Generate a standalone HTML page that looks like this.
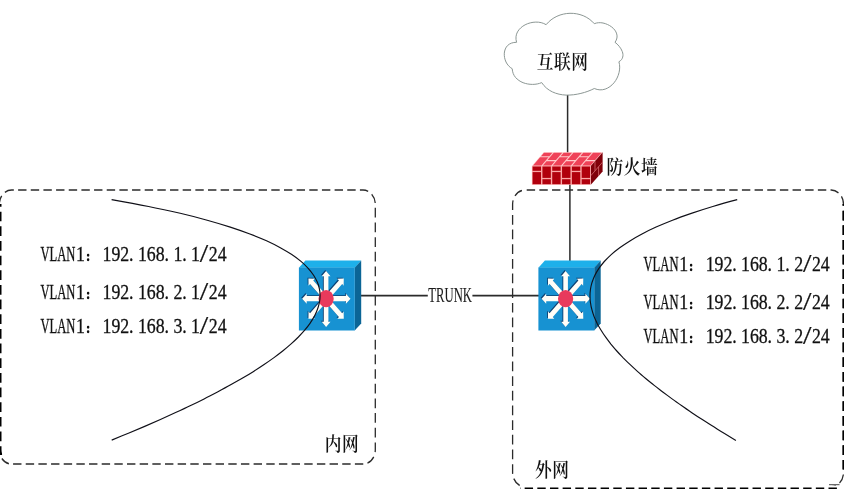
<!DOCTYPE html>
<html lang="zh-CN"><head><meta charset="utf-8"><title>VLAN TRUNK 网络拓扑</title>
<style>
html,body{margin:0;padding:0;background:#ffffff;}
body{width:844px;height:489px;overflow:hidden;}
svg{display:block;will-change:transform;}
.lat{font-family:"Liberation Serif","Noto Serif CJK SC",serif;font-size:21px;fill:#111;}
.cap{stroke:#111;stroke-width:0.32px;}
.trk{fill:#1c1c1c;stroke:#1c1c1c;stroke-width:0.12px;}
.dig{stroke:#111;stroke-width:0.3px;}
.sl{font-size:25px;stroke:#111;stroke-width:0.2px;}
.col{font-size:12px;stroke:#111;stroke-width:1.5px;stroke-linejoin:round;}
.cjk{font-family:"Liberation Serif","Noto Serif CJK SC",serif;fill:#111;font-weight:600;}
.ln{fill:none;stroke:#2b2b2b;stroke-width:1.5;}
.cv{fill:none;stroke:#101018;stroke-width:1.15;}
.box{fill:none;stroke:#2b2b2b;stroke-width:1.3;stroke-dasharray:8.4 4.26;}
.edge{stroke:#000;stroke-width:2.2;}
</style></head><body>
<svg width="844" height="489" viewBox="0 0 844 489">
<defs><g id="sw">
<polygon points="-0.2,7.4 6.3,0.2 62.1,0.2 55.8,7.4" fill="#1eb0ea"/>
<polygon points="55.6,7.4 62.1,0.2 62.1,63.2 55.6,70.2" fill="#0b6596"/>
<rect x="-0.2" y="7.2" width="55.9" height="63" fill="#1792d2"/>
<g transform="translate(27.00,38.40) scale(1,1.140)">
<g fill="#0d4273" transform="translate(-0.9,-0.8)"><polygon points="-2.30,0.00 -2.30,-19.80 -4.40,-19.80 0.00,-24.40 4.40,-19.80 2.30,-19.80 2.30,0.00" transform="rotate(0)"/><polygon points="-2.30,0.00 -2.30,-20.20 -4.40,-20.20 0.00,-24.80 4.40,-20.20 2.30,-20.20 2.30,0.00" transform="rotate(180)"/><polygon points="-2.30,0.00 -2.30,-19.80 -4.40,-19.80 0.00,-24.40 4.40,-19.80 2.30,-19.80 2.30,0.00" transform="rotate(90)"/><polygon points="-2.30,0.00 -2.30,-19.40 -4.40,-19.40 0.00,-24.00 4.40,-19.40 2.30,-19.40 2.30,0.00" transform="rotate(270)"/><polygon points="-2.30,0.00 -2.30,-20.40 -4.40,-20.40 0.00,-25.00 4.40,-20.40 2.30,-20.40 2.30,0.00" transform="rotate(45)"/><polygon points="-2.30,0.00 -2.30,-20.40 -4.40,-20.40 0.00,-25.00 4.40,-20.40 2.30,-20.40 2.30,0.00" transform="rotate(135)"/><polygon points="-2.30,0.00 -2.30,-20.40 -4.40,-20.40 0.00,-25.00 4.40,-20.40 2.30,-20.40 2.30,0.00" transform="rotate(225)"/><polygon points="-2.30,0.00 -2.30,-20.40 -4.40,-20.40 0.00,-25.00 4.40,-20.40 2.30,-20.40 2.30,0.00" transform="rotate(315)"/></g>
<g fill="#fffef8"><polygon points="-2.30,0.00 -2.30,-19.80 -4.40,-19.80 0.00,-24.40 4.40,-19.80 2.30,-19.80 2.30,0.00" transform="rotate(0)"/><polygon points="-2.30,0.00 -2.30,-20.20 -4.40,-20.20 0.00,-24.80 4.40,-20.20 2.30,-20.20 2.30,0.00" transform="rotate(180)"/><polygon points="-2.30,0.00 -2.30,-19.80 -4.40,-19.80 0.00,-24.40 4.40,-19.80 2.30,-19.80 2.30,0.00" transform="rotate(90)"/><polygon points="-2.30,0.00 -2.30,-19.40 -4.40,-19.40 0.00,-24.00 4.40,-19.40 2.30,-19.40 2.30,0.00" transform="rotate(270)"/><polygon points="-2.30,0.00 -2.30,-20.40 -4.40,-20.40 0.00,-25.00 4.40,-20.40 2.30,-20.40 2.30,0.00" transform="rotate(45)"/><polygon points="-2.30,0.00 -2.30,-20.40 -4.40,-20.40 0.00,-25.00 4.40,-20.40 2.30,-20.40 2.30,0.00" transform="rotate(135)"/><polygon points="-2.30,0.00 -2.30,-20.40 -4.40,-20.40 0.00,-25.00 4.40,-20.40 2.30,-20.40 2.30,0.00" transform="rotate(225)"/><polygon points="-2.30,0.00 -2.30,-20.40 -4.40,-20.40 0.00,-25.00 4.40,-20.40 2.30,-20.40 2.30,0.00" transform="rotate(315)"/></g>
<circle cx="0" cy="0" r="7.6" fill="#e83a5c"/>
</g>
</g><clipPath id="clipL"><rect x="0" y="204" width="2.2" height="251"/></clipPath><clipPath id="clipR"><rect x="841.8" y="204" width="3" height="270"/></clipPath></defs>
<rect x="0" y="0" width="844" height="489" fill="#ffffff"/>
<line class="ln" x1="567.6" y1="94" x2="567.6" y2="153"/>
<path d="M516.6,42.3 C515.4,38.4 515.9,34.8 517.5,31.9 C519.2,28.9 521.9,26.5 525.1,24.8 C528.4,23.1 532.1,22.2 535.8,22.1 C539.5,22.0 543.1,22.8 546.1,24.7 C549.1,21.0 552.8,18.2 556.9,16.3 C561.0,14.4 565.5,13.4 570.0,13.3 C574.5,13.2 579.0,14.0 583.2,15.7 C587.3,17.4 591.2,20.1 594.3,23.7 C596.9,22.6 600.0,22.4 603.0,23.0 C606.1,23.7 609.1,25.0 611.6,26.9 C614.1,28.8 616.0,31.2 616.7,33.9 C617.5,36.5 617.1,39.4 615.0,42.3 C616.4,43.3 617.9,44.7 619.2,46.3 C620.5,47.9 621.6,49.7 622.3,51.6 C623.0,53.5 623.2,55.4 622.7,57.1 C622.3,58.9 621.1,60.5 618.9,61.8 C620.0,65.2 619.9,69.0 619.0,72.7 C618.1,76.4 616.4,79.9 614.0,82.8 C611.6,85.7 608.6,87.9 605.2,89.1 C601.9,90.2 598.1,90.2 594.3,88.5 C590.3,90.5 585.7,92.3 580.9,93.4 C576.1,94.6 571.1,95.2 566.2,95.1 C561.4,94.9 556.6,93.9 552.4,91.9 C548.2,89.9 544.5,86.9 541.7,82.6 C538.9,83.8 535.8,84.4 532.5,84.4 C529.3,84.4 526.0,83.8 523.1,82.7 C520.1,81.5 517.5,79.7 515.5,77.4 C513.6,75.1 512.4,72.2 512.2,68.7 C509.5,67.2 507.4,64.8 506.0,62.0 C504.7,59.2 504.1,56.1 504.3,53.2 C504.6,50.2 505.6,47.5 507.6,45.5 C509.7,43.5 512.6,42.3 516.6,42.3 Z" fill="#ffffff" stroke="#8c9794" stroke-width="1" stroke-linejoin="round"/>
<line class="ln" x1="569.9" y1="184" x2="569.9" y2="261"/>
<line class="ln" x1="360" y1="295.7" x2="427.8" y2="295.7" style="stroke-width:1.75"/>
<line class="ln" x1="472.4" y1="295.7" x2="539.5" y2="295.7" style="stroke-width:1.75"/>
<path class="box" transform="scale(1,1.158)" d="M11.60,164.16 H363.00 A12.30,12.30 0 0 1 375.30,176.46 V388.48 A12.30,12.30 0 0 1 363.00,400.78 H11.60 A12.30,12.30 0 0 1 -0.70,388.48 V176.46 A12.30,12.30 0 0 1 11.60,164.16" stroke-dashoffset="6.16"/>
<path class="box" transform="scale(1,1.158)" d="M524.90,164.16 H831.20 A12.30,12.30 0 0 1 843.50,176.46 V408.08 A12.30,12.30 0 0 1 831.20,420.38 H524.90 A12.30,12.30 0 0 1 512.60,408.08 V176.46 A12.30,12.30 0 0 1 524.90,164.16" stroke-dashoffset="10.86"/>
<g clip-path="url(#clipL)"><path class="box edge" transform="translate(1.1,0) scale(1,1.158)" d="M11.60,164.16 H363.00 A12.30,12.30 0 0 1 375.30,176.46 V388.48 A12.30,12.30 0 0 1 363.00,400.78 H11.60 A12.30,12.30 0 0 1 -0.70,388.48 V176.46 A12.30,12.30 0 0 1 11.60,164.16" stroke-dashoffset="7.66"/></g>
<g clip-path="url(#clipR)"><path class="box edge" transform="scale(1,1.158)" d="M524.90,164.16 H831.20 A12.30,12.30 0 0 1 843.50,176.46 V408.08 A12.30,12.30 0 0 1 831.20,420.38 H524.90 A12.30,12.30 0 0 1 512.60,408.08 V176.46 A12.30,12.30 0 0 1 524.90,164.16" stroke-dashoffset="10.86"/></g>
<rect x="520.3" y="485.6" width="317.2" height="4" fill="#ffffff"/>
<line x1="829" y1="484.7" x2="839.5" y2="484.7" stroke="#333" stroke-width="0.9"/>
<path class="box edge" d="M836.9,488.7 H520" style="stroke-width:2.5"/>
<g transform="translate(531.9,152.3)">
<polygon points="0,13.6 11.8,0 70.7,0 58.9,13.6" fill="#ffcaca"/>
<polygon points="58.9,13.6 70.7,0 70.7,19.1 58.9,32.5" fill="#80000a"/>
<g stroke="#d46a70" stroke-width="0.8" fill="none">
<path d="M58.9,23.4 L70.7,9.8"/>
<path d="M63.1,9.0 V18.5"/>
<path d="M66.7,14.5 V23.5"/>
</g>
<rect x="0" y="13.6" width="58.9" height="18.9" fill="#fba6a6"/>
<rect x="0.70" y="14.20" width="8.42" height="4.30" fill="#b1000d"/>
<rect x="0.70" y="19.80" width="8.42" height="12.10" fill="#b1000d"/>
<rect x="10.52" y="14.20" width="8.42" height="11.40" fill="#b1000d"/>
<rect x="10.52" y="26.90" width="8.42" height="5.00" fill="#b1000d"/>
<rect x="20.33" y="14.20" width="8.42" height="4.30" fill="#b1000d"/>
<rect x="20.33" y="19.80" width="8.42" height="12.10" fill="#b1000d"/>
<rect x="30.15" y="14.20" width="8.42" height="11.40" fill="#b1000d"/>
<rect x="30.15" y="26.90" width="8.42" height="5.00" fill="#b1000d"/>
<rect x="39.97" y="14.20" width="8.42" height="4.30" fill="#b1000d"/>
<rect x="39.97" y="19.80" width="8.42" height="12.10" fill="#b1000d"/>
<rect x="49.78" y="14.20" width="8.42" height="11.40" fill="#b1000d"/>
<rect x="49.78" y="26.90" width="8.42" height="5.00" fill="#b1000d"/>
<g transform="matrix(1,0,-0.8676,1,11.80,0)" fill="#ef4258">
<rect x="0.70" y="0.50" width="8.42" height="3.40"/>
<rect x="0.70" y="5.00" width="8.42" height="8.10"/>
<rect x="10.52" y="0.50" width="8.42" height="7.20"/>
<rect x="10.52" y="8.90" width="8.42" height="4.20"/>
<rect x="20.33" y="0.50" width="8.42" height="3.40"/>
<rect x="20.33" y="5.00" width="8.42" height="8.10"/>
<rect x="30.15" y="0.50" width="8.42" height="7.20"/>
<rect x="30.15" y="8.90" width="8.42" height="4.20"/>
<rect x="39.97" y="0.50" width="8.42" height="3.40"/>
<rect x="39.97" y="5.00" width="8.42" height="8.10"/>
<rect x="49.78" y="0.50" width="8.42" height="7.20"/>
<rect x="49.78" y="8.90" width="8.42" height="4.20"/>
</g>
</g>
<use href="#sw" x="299.10" y="260.30"/>
<use href="#sw" x="538.60" y="260.30"/>
<path class="cv" d="M111.6,199.6 C117.8,200.7 137.2,204.2 148.6,206.5 C160.0,208.8 170.4,211.1 180.2,213.3 C190.0,215.6 198.9,217.9 207.2,220.2 C215.5,222.5 223.1,224.8 230.3,227.1 C237.4,229.4 243.8,231.7 249.9,234.0 C255.9,236.2 261.4,238.5 266.5,240.8 C271.5,243.1 276.1,245.4 280.3,247.7 C284.5,250.0 288.3,252.3 291.8,254.6 C295.2,256.9 298.2,259.2 301.0,261.4 C303.7,263.7 306.1,266.0 308.2,268.3 C310.3,270.6 312.1,272.9 313.6,275.2 C315.1,277.5 316.3,279.8 317.3,282.1 C318.3,284.3 318.9,286.6 319.4,288.9 C319.9,291.2 320.1,293.5 320.1,295.8 C320.1,298.1 319.8,300.4 319.4,302.7 C318.9,305.0 318.3,307.3 317.4,309.5 C316.6,311.8 315.5,314.1 314.3,316.4 C313.0,318.7 311.6,321.0 310.0,323.3 C308.4,325.6 306.6,327.9 304.7,330.2 C302.8,332.4 300.6,334.7 298.4,337.0 C296.1,339.3 293.7,341.6 291.1,343.9 C288.5,346.2 285.8,348.5 283.0,350.8 C280.1,353.1 277.1,355.4 274.0,357.6 C270.8,359.9 267.5,362.2 264.1,364.5 C260.7,366.8 257.2,369.1 253.6,371.4 C249.9,373.7 246.1,376.0 242.2,378.3 C238.3,380.5 234.3,382.8 230.2,385.1 C226.1,387.4 221.8,389.7 217.5,392.0 C213.1,394.3 208.7,396.6 204.1,398.9 C199.6,401.2 194.9,403.5 190.1,405.7 C185.4,408.0 180.5,410.3 175.6,412.6 C170.6,414.9 165.5,417.2 160.4,419.5 C155.2,421.8 150.0,424.1 144.7,426.4 C139.3,428.6 133.9,430.9 128.4,433.2 C122.9,435.5 114.4,439.0 111.7,440.1"/>
<path class="cv" d="M737.2,199.6 C733.1,200.7 720.4,204.2 712.8,206.5 C705.1,208.8 698.0,211.1 691.3,213.4 C684.6,215.7 678.3,217.9 672.5,220.2 C666.6,222.5 661.2,224.8 656.1,227.1 C651.0,229.4 646.3,231.7 642.0,234.0 C637.6,236.3 633.6,238.6 629.9,240.9 C626.2,243.2 622.8,245.5 619.7,247.8 C616.6,250.1 613.8,252.3 611.2,254.6 C608.7,256.9 606.4,259.2 604.3,261.5 C602.3,263.8 600.5,266.1 598.9,268.4 C597.4,270.7 596.0,273.0 594.9,275.3 C593.8,277.6 592.9,279.9 592.1,282.2 C591.4,284.5 590.9,286.7 590.5,289.0 C590.2,291.3 590.0,293.6 590.0,295.9 C590.0,298.2 590.1,300.5 590.5,302.8 C590.8,305.1 591.2,307.4 591.9,309.7 C592.5,312.0 593.2,314.3 594.1,316.6 C595.0,318.9 596.1,321.1 597.2,323.4 C598.4,325.7 599.7,328.0 601.1,330.3 C602.5,332.6 604.0,334.9 605.7,337.2 C607.3,339.5 609.1,341.8 610.9,344.1 C612.8,346.4 614.7,348.7 616.8,351.0 C618.8,353.3 621.0,355.5 623.2,357.8 C625.5,360.1 627.8,362.4 630.2,364.7 C632.6,367.0 635.1,369.3 637.7,371.6 C640.3,373.9 643.0,376.2 645.7,378.5 C648.5,380.8 651.3,383.1 654.2,385.4 C657.1,387.7 660.1,389.9 663.1,392.2 C666.2,394.5 669.3,396.8 672.4,399.1 C675.6,401.4 678.9,403.7 682.2,406.0 C685.4,408.3 688.8,410.6 692.2,412.9 C695.6,415.2 699.1,417.5 702.7,419.8 C706.2,422.1 709.8,424.3 713.4,426.6 C717.1,428.9 720.7,431.2 724.5,433.5 C728.2,435.8 734.0,439.3 735.9,440.4"/>
<text transform="translate(536.86,68.50) scale(0.970,1.120)" x="0" y="0" class="cjk" font-size="17.20" letter-spacing="0.53">互联网</text>
<text transform="translate(606.56,174.00) scale(0.970,1.120)" x="0" y="0" class="cjk" font-size="17.20" letter-spacing="0.53">防火墙</text>
<text transform="translate(324.76,451.00) scale(0.970,1.120)" x="0" y="0" class="cjk" font-size="17.20" letter-spacing="0.53">内网</text>
<text transform="translate(534.96,477.30) scale(0.970,1.120)" x="0" y="0" class="cjk" font-size="17.20" letter-spacing="0.53">外网</text>
<text transform="translate(428.00,301.80) scale(0.850,0.990)" class="lat"><tspan class="trk" x="0.24" y="0" textLength="51.59" lengthAdjust="spacingAndGlyphs">TRUNK</tspan></text>
<text transform="translate(40.20,260.60) scale(0.850,0.990)" class="lat"><tspan class="cap" x="0.24" y="0" textLength="41.18" lengthAdjust="spacingAndGlyphs">VLAN</tspan><tspan class="dig" text-anchor="middle" y="0" x="47.44">1</tspan><tspan class="col" y="0" x="53.47">：</tspan><tspan class="dig" text-anchor="middle" y="0" x="78.68 89.09 99.50 107.18 120.32 130.74 141.15 148.82 161.97 169.65 182.79">192.168.1.1</tspan><tspan class="sl" y="1.20" x="187.76" textLength="9.94" lengthAdjust="spacingAndGlyphs">/</tspan><tspan class="dig" text-anchor="middle" y="0" x="203.62 214.03">24</tspan></text>
<text transform="translate(40.20,299.00) scale(0.850,0.990)" class="lat"><tspan class="cap" x="0.24" y="0" textLength="41.18" lengthAdjust="spacingAndGlyphs">VLAN</tspan><tspan class="dig" text-anchor="middle" y="0" x="47.44">1</tspan><tspan class="col" y="0" x="53.47">：</tspan><tspan class="dig" text-anchor="middle" y="0" x="78.68 89.09 99.50 107.18 120.32 130.74 141.15 148.82 161.97 169.65 182.79">192.168.2.1</tspan><tspan class="sl" y="1.20" x="187.76" textLength="9.94" lengthAdjust="spacingAndGlyphs">/</tspan><tspan class="dig" text-anchor="middle" y="0" x="203.62 214.03">24</tspan></text>
<text transform="translate(40.20,332.60) scale(0.850,0.990)" class="lat"><tspan class="cap" x="0.24" y="0" textLength="41.18" lengthAdjust="spacingAndGlyphs">VLAN</tspan><tspan class="dig" text-anchor="middle" y="0" x="47.44">1</tspan><tspan class="col" y="0" x="53.47">：</tspan><tspan class="dig" text-anchor="middle" y="0" x="78.68 89.09 99.50 107.18 120.32 130.74 141.15 148.82 161.97 169.65 182.79">192.168.3.1</tspan><tspan class="sl" y="1.20" x="187.76" textLength="9.94" lengthAdjust="spacingAndGlyphs">/</tspan><tspan class="dig" text-anchor="middle" y="0" x="203.62 214.03">24</tspan></text>
<text transform="translate(643.30,270.60) scale(0.850,0.990)" class="lat"><tspan class="cap" x="0.24" y="0" textLength="41.18" lengthAdjust="spacingAndGlyphs">VLAN</tspan><tspan class="dig" text-anchor="middle" y="0" x="47.44">1</tspan><tspan class="col" y="0" x="53.47">：</tspan><tspan class="dig" text-anchor="middle" y="0" x="78.68 89.09 99.50 107.18 120.32 130.74 141.15 148.82 161.97 169.65 182.79">192.168.1.2</tspan><tspan class="sl" y="1.20" x="187.76" textLength="9.94" lengthAdjust="spacingAndGlyphs">/</tspan><tspan class="dig" text-anchor="middle" y="0" x="203.62 214.03">24</tspan></text>
<text transform="translate(643.30,308.80) scale(0.850,0.990)" class="lat"><tspan class="cap" x="0.24" y="0" textLength="41.18" lengthAdjust="spacingAndGlyphs">VLAN</tspan><tspan class="dig" text-anchor="middle" y="0" x="47.44">1</tspan><tspan class="col" y="0" x="53.47">：</tspan><tspan class="dig" text-anchor="middle" y="0" x="78.68 89.09 99.50 107.18 120.32 130.74 141.15 148.82 161.97 169.65 182.79">192.168.2.2</tspan><tspan class="sl" y="1.20" x="187.76" textLength="9.94" lengthAdjust="spacingAndGlyphs">/</tspan><tspan class="dig" text-anchor="middle" y="0" x="203.62 214.03">24</tspan></text>
<text transform="translate(643.30,342.60) scale(0.850,0.990)" class="lat"><tspan class="cap" x="0.24" y="0" textLength="41.18" lengthAdjust="spacingAndGlyphs">VLAN</tspan><tspan class="dig" text-anchor="middle" y="0" x="47.44">1</tspan><tspan class="col" y="0" x="53.47">：</tspan><tspan class="dig" text-anchor="middle" y="0" x="78.68 89.09 99.50 107.18 120.32 130.74 141.15 148.82 161.97 169.65 182.79">192.168.3.2</tspan><tspan class="sl" y="1.20" x="187.76" textLength="9.94" lengthAdjust="spacingAndGlyphs">/</tspan><tspan class="dig" text-anchor="middle" y="0" x="203.62 214.03">24</tspan></text>
</svg>
</body></html>
